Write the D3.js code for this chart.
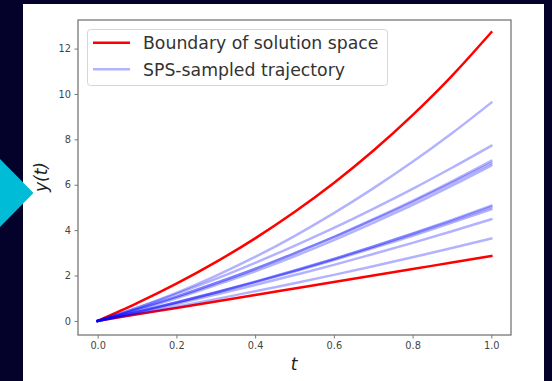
<!DOCTYPE html>
<html>
<head>
<meta charset="utf-8">
<script src="https://cdn.jsdelivr.net/npm/d3@7"></script>
<style>
  html, body { margin: 0; padding: 0; background: #04022b; }
  svg { display: block; }
  .tick text { font-family: "DejaVu Sans", sans-serif; font-size: 9.8px; fill: #444; }
</style>
</head>
<body>
<svg id="chart" width="552" height="381"></svg>
<script>
// Time grid shared by every trajectory
const tValues = [0, 0.1, 0.2, 0.3, 0.4, 0.5, 0.6, 0.7, 0.8, 0.9, 1.0];

// Upper and lower boundary of the solution space
const boundaryUpper = [0, 0.78, 1.64, 2.59, 3.64, 4.80, 6.08, 7.50, 9.07, 10.80, 12.72];
const boundaryLower = [0, 0.29, 0.57, 0.86, 1.14, 1.43, 1.72, 2.00, 2.29, 2.57, 2.86];

// SPS-sampled trajectories
const trajectories = [
  [0, 0.58, 1.24, 1.99, 2.82, 3.74, 4.75, 5.84, 7.01, 8.27, 9.62],
  [0, 0.57, 1.19, 1.85, 2.56, 3.31, 4.10, 4.94, 5.82, 6.75, 7.72],
  [0, 0.51, 1.06, 1.66, 2.29, 2.98, 3.70, 4.48, 5.29, 6.15, 7.05],
  [0, 0.52, 1.07, 1.67, 2.30, 2.98, 3.69, 4.45, 5.24, 6.08, 6.95],
  [0, 0.48, 1.00, 1.58, 2.19, 2.85, 3.56, 4.32, 5.11, 5.96, 6.85],
  [0, 0.39, 0.81, 1.25, 1.72, 2.21, 2.73, 3.28, 3.85, 4.45, 5.08],
  [0, 0.40, 0.82, 1.26, 1.73, 2.22, 2.73, 3.27, 3.83, 4.41, 5.02],
  [0, 0.39, 0.80, 1.24, 1.70, 2.18, 2.68, 3.21, 3.75, 4.33, 4.92],
  [0, 0.37, 0.75, 1.16, 1.58, 2.02, 2.47, 2.95, 3.44, 3.95, 4.48],
  [0, 0.31, 0.63, 0.96, 1.31, 1.66, 2.03, 2.41, 2.81, 3.21, 3.63]
];

const xTicks = [0, 0.2, 0.4, 0.6, 0.8, 1.0];
const yTicks = [0, 2, 4, 6, 8, 10, 12];
const legendLabels = ["Boundary of solution space", "SPS-sampled trajectory"];

const svg = d3.select("#chart");

// Page backdrop: dark slide, white card, cyan marker
svg.append("rect").attr("width", 552).attr("height", 381).attr("fill", "#04022b");
svg.append("rect").attr("x", 23).attr("y", 4).attr("width", 521).attr("height", 390).attr("fill", "#ffffff");
svg.append("polygon").attr("points", "0,159 33.5,193 0,227").attr("fill", "#00bcd6");

const plot = { left: 78, right: 511, top: 20, bottom: 335 };

const x = d3.scaleLinear().domain([-0.05, 1.05]).range([plot.left, plot.right]);
const y = d3.scaleLinear().domain([-0.62, 13.26]).range([plot.bottom, plot.top]);

const toPoints = vals => vals.map((v, i) => [tValues[i], v]);
const line = d3.line().x(d => x(d[0])).y(d => y(d[1])).curve(d3.curveMonotoneX);

// Boundary curves
const gLines = svg.append("g");
[boundaryUpper, boundaryLower].forEach(vals => {
  gLines.append("path")
    .attr("d", line(toPoints(vals)))
    .attr("fill", "none")
    .attr("stroke", "red")
    .attr("stroke-width", 2.5)
    .attr("stroke-linecap", "square");
});

// Sampled trajectories
trajectories.forEach(vals => {
  gLines.append("path")
    .attr("d", line(toPoints(vals)))
    .attr("fill", "none")
    .attr("stroke", "blue")
    .attr("stroke-opacity", 0.3)
    .attr("stroke-width", 2.5)
    .attr("stroke-linecap", "square");
});

// Axes
const spine = "#777";
const xAxis = svg.append("g")
  .attr("transform", `translate(0,${plot.bottom})`)
  .call(d3.axisBottom(x).tickValues(xTicks).tickFormat(d3.format(".1f")).tickSize(3.5).tickPadding(3.5).tickSizeOuter(0));
const yAxis = svg.append("g")
  .attr("transform", `translate(${plot.left},0)`)
  .call(d3.axisLeft(y).tickValues(yTicks).tickFormat(d3.format("d")).tickSize(3.5).tickPadding(3.5).tickSizeOuter(0));
[xAxis, yAxis].forEach(g => {
  g.select(".domain").remove();
  g.selectAll(".tick line").attr("stroke", spine).attr("stroke-width", 1);
});

// Frame around the plotting area
svg.append("rect")
  .attr("x", plot.left).attr("y", plot.top)
  .attr("width", plot.right - plot.left).attr("height", plot.bottom - plot.top)
  .attr("fill", "none").attr("stroke", spine).attr("stroke-width", 1.3);

// Axis titles
svg.append("text")
  .attr("x", 294).attr("y", 370)
  .attr("text-anchor", "middle")
  .attr("font-family", "DejaVu Sans, sans-serif").attr("font-style", "italic")
  .attr("font-size", 17).attr("fill", "#222")
  .text("t");
svg.append("text")
  .attr("transform", "translate(47,177) rotate(-90)")
  .attr("text-anchor", "middle")
  .attr("font-family", "DejaVu Sans, sans-serif").attr("font-style", "italic")
  .attr("font-size", 17).attr("fill", "#222")
  .text("y(t)");

// Legend
const legend = svg.append("g");
legend.append("rect")
  .attr("x", 87.5).attr("y", 29.5).attr("width", 300).attr("height", 56)
  .attr("rx", 3).attr("fill", "#fff").attr("fill-opacity", 0.8)
  .attr("stroke", "#d6d6d6").attr("stroke-width", 1);
const legendStyles = [
  { stroke: "red", opacity: 1 },
  { stroke: "blue", opacity: 0.3 }
];
legendLabels.forEach((label, i) => {
  const cy = 42.7 + i * 26.6;
  legend.append("line")
    .attr("x1", 93).attr("x2", 130).attr("y1", cy).attr("y2", cy)
    .attr("stroke", legendStyles[i].stroke).attr("stroke-opacity", legendStyles[i].opacity)
    .attr("stroke-width", 2.6);
  legend.append("text")
    .attr("x", 143).attr("y", cy + 6.2)
    .attr("font-family", "DejaVu Sans, sans-serif").attr("font-size", 17.3)
    .attr("fill", "#333")
    .text(label);
});
</script>
</body>
</html>
